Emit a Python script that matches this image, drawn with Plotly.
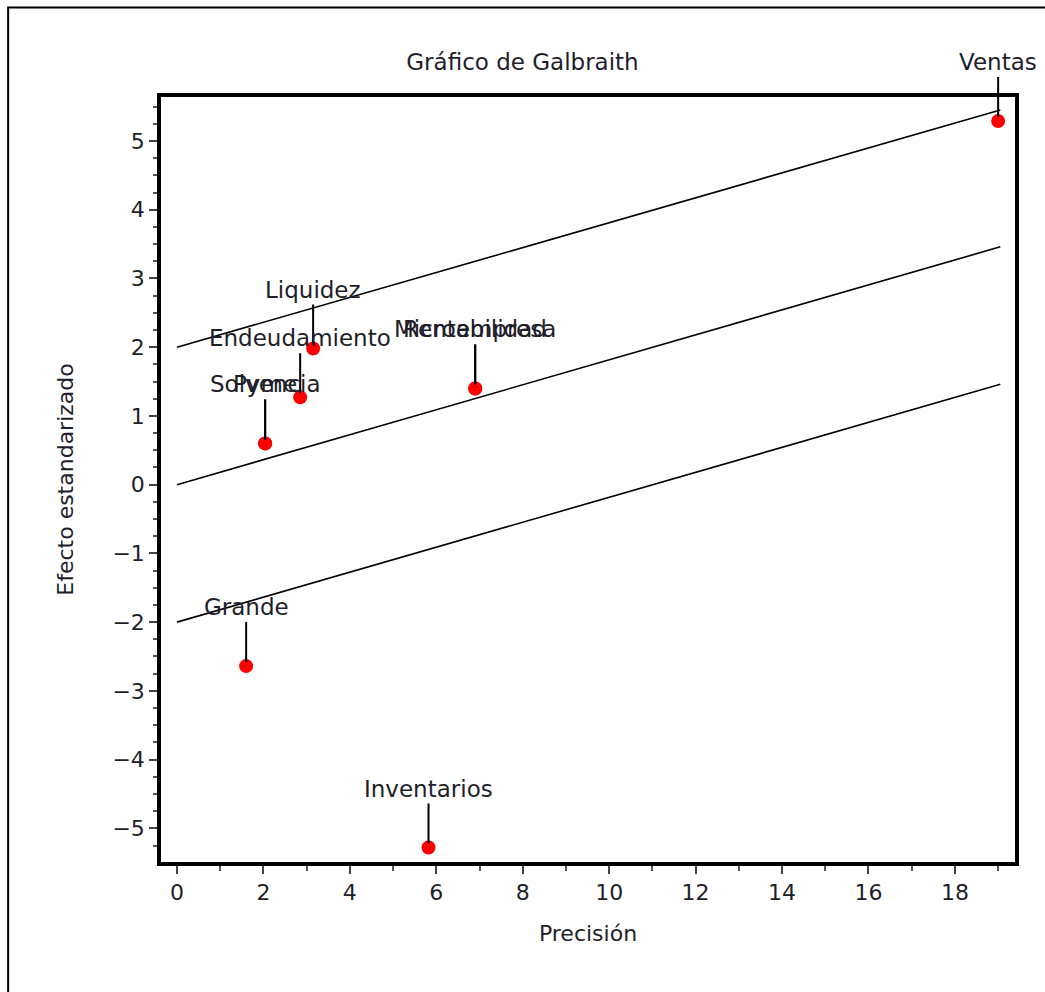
import plotly.graph_objects as go

# Data
labels = ["Ventas", "Liquidez", "Endeudamiento", "Solvencia", "Pyme",
          "Rentabilidad", "Microempresa", "Grande", "Inventarios"]
precision = [19.0, 3.15, 2.85, 2.04, 2.04, 6.9, 6.9, 1.6, 5.82]
effect = [5.29, 1.98, 1.27, 0.60, 0.60, 1.40, 1.40, -2.64, -5.28]

line_x = [0.0, 19.05]
line_upper = [2.0, 5.45]
line_mid = [0.0, 3.46]
line_lower = [-2.0, 1.46]

x_ticks = [0, 2, 4, 6, 8, 10, 12, 14, 16, 18]
y_ticks = [-5, -4, -3, -2, -1, 0, 1, 2, 3, 4, 5]

FONT = "DejaVu Sans"
TXT = "#1e1e2a"

fig = go.Figure()
for ys in (line_upper, line_mid, line_lower):
    fig.add_trace(go.Scatter(x=line_x, y=ys, mode="lines",
                             line=dict(color="black", width=1.6),
                             showlegend=False, hoverinfo="skip"))

fig.add_trace(go.Scatter(x=precision, y=effect, mode="markers",
                         marker=dict(color="#ff0000", size=14),
                         showlegend=False, cliponaxis=False))

for name, px, py in zip(labels, precision, effect):
    fig.add_annotation(x=px, y=py, text=name, showarrow=True,
                       ax=0, ay=-44, arrowhead=0, arrowwidth=2,
                       arrowcolor="black", standoff=4, startstandoff=0,
                       yanchor="bottom",
                       font=dict(family=FONT, size=23, color=TXT))

axis_common = dict(showline=True, linecolor="black", linewidth=3.5, mirror=True,
                   showgrid=False, zeroline=False, ticks="outside",
                   ticklen=8, tickwidth=1.5, tickcolor="#444",
                   tickfont=dict(family=FONT, size=22, color=TXT))

fig.update_xaxes(range=[-0.37, 19.39], tickvals=x_ticks,
                 minor=dict(dtick=1, tick0=0, ticks="outside", ticklen=5,
                            tickcolor="#555", tickwidth=1.5),
                 title=dict(text="Precisión", standoff=22,
                            font=dict(family=FONT, size=22, color=TXT)),
                 **axis_common)
fig.update_yaxes(range=[-5.49, 5.64], tickvals=y_ticks,
                 minor=dict(dtick=0.25, tick0=0, ticks="outside", ticklen=4,
                            tickcolor="#555", tickwidth=1.5),
                 title=dict(text="Efecto estandarizado", standoff=34,
                            font=dict(family=FONT, size=22, color=TXT)),
                 **axis_common)

fig.add_shape(type="rect", xref="paper", yref="paper",
              x0=-0.179, x1=1.2, y0=-0.3, y1=1.117,
              line=dict(color="black", width=2), layer="below")

fig.update_layout(
    width=1045, height=992,
    margin=dict(l=161, r=30, t=97, b=130),
    paper_bgcolor="white", plot_bgcolor="white",
    title=dict(text="Gráfico de Galbraith", x=0.5, xanchor="center",
               y=1 - 62 / 992, yanchor="middle",
               font=dict(family=FONT, size=23, color=TXT)),
)

fig.write_html("out.html", config={"displayModeBar": False},
               post_script="document.body.style.margin='0';document.body.style.overflow='hidden';")
